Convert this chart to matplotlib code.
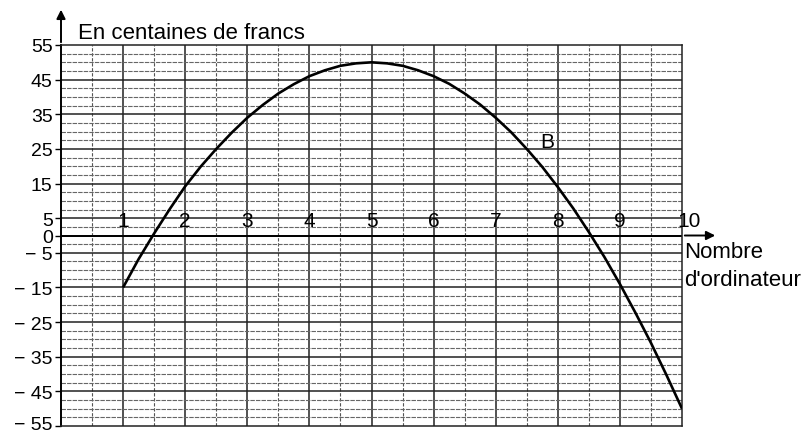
import numpy as np
import matplotlib.pyplot as plt
import matplotlib.transforms as mtransforms

plt.rcParams['font.family'] = ['Liberation Sans', 'DejaVu Sans']

# values (every quarter unit)
x_pts = [1, 1.25, 1.5, 1.75, 2, 2.25, 2.5, 2.75, 3, 3.25, 3.5, 3.75, 4, 4.25, 4.5, 4.75, 5,
         5.25, 5.5, 5.75, 6, 6.25, 6.5, 6.75, 7, 7.25, 7.5, 7.75, 8, 8.25, 8.5, 8.75, 9,
         9.25, 9.5, 9.75, 10]
y_pts = [-15, -6.8, 0.6, 7.6, 14.2, 19.9, 25, 29.7, 34, 37.7, 41, 43.7, 46, 47.7, 49, 49.7, 50,
         49.7, 49, 47.7, 46, 43.8, 41, 37.8, 34, 29.8, 25, 19.8, 14, 7.8, 1, -6.2, -14,
         -22.3, -31, -40.3, -50]

y_ticks = [55, 45, 35, 25, 15, 5, 0, -5, -15, -25, -35, -45, -55]
y_labels = ["55", "45", "35", "25", "15", "5", "0", "\u2212 5", "\u2212 15", "\u2212 25",
            "\u2212 35", "\u2212 45", "\u2212 55"]
x_ticks = [1, 2, 3, 4, 5, 6, 7, 8, 9, 10]

fig = plt.figure(figsize=(8.07, 4.35), dpi=100)
ax = fig.add_axes([61 / 807, 8 / 435, 621 / 807, 381 / 435])
ax.set_xlim(0, 10)
ax.set_ylim(-55, 55)

# paper grid: dashed lines every half unit / 2.5, solid on the units and labelled levels
for gx in np.arange(0.5, 10, 0.5):
    major = float(gx).is_integer()
    ax.axvline(gx, color="#222222" if major else "#555555", lw=1.1 if major else 0.8,
               ls="-" if major else (0, (3, 1.5)), zorder=1)
for gy in np.arange(-52.5, 55, 2.5):
    major = gy in y_ticks
    ax.axhline(gy, color="#222222" if major else "#666666", lw=1.1 if major else 0.8,
               ls="-" if major else (0, (4, 1)), zorder=1)
ax.axhline(0, color="black", lw=1.4, zorder=2)

ax.plot(x_pts, y_pts, color="black", lw=1.9, zorder=3, solid_capstyle="butt")

for s in ["top", "right", "bottom"]:
    ax.spines[s].set_color("#222222")
    ax.spines[s].set_linewidth(1.1)
ax.spines["left"].set_linewidth(1.4)

ax.set_xticks([])
ax.set_yticks(y_ticks)
ax.set_yticklabels(y_labels, fontsize=14)
ax.tick_params(axis="y", direction="out", length=4, width=1, pad=2)
# lift the bottom label a little so it stays inside the picture
last = ax.get_yticklabels()[-1]
last.set_transform(last.get_transform() + mtransforms.ScaledTranslation(0, 3 / 100, fig.dpi_scale_trans))

for xt in x_ticks:
    xpos = xt + 0.12 if xt == 10 else xt
    ax.text(xpos, 4.3, str(xt), ha="center", va="center", fontsize=15, zorder=4)

# arrows on the axes
ax.annotate("", xy=(0, 66), xytext=(0, 55), annotation_clip=False,
            arrowprops=dict(arrowstyle="-|>", color="black", lw=1.4, mutation_scale=13))
ax.annotate("", xy=(10.58, 0), xytext=(10, 0), annotation_clip=False,
            arrowprops=dict(arrowstyle="-|>", color="black", lw=1.4, mutation_scale=13))

ax.text(0.27, 56.9, "En centaines de francs", ha="left", va="baseline", fontsize=16)
ax.text(10.04, -4.6, "Nombre", ha="left", va="center", fontsize=16)
ax.text(10.04, -12.6, "d'ordinateur", ha="left", va="center", fontsize=16)
ax.text(7.71, 27, "B", ha="left", va="center", fontsize=15, zorder=4)

fig.savefig("out.png", dpi=100)
